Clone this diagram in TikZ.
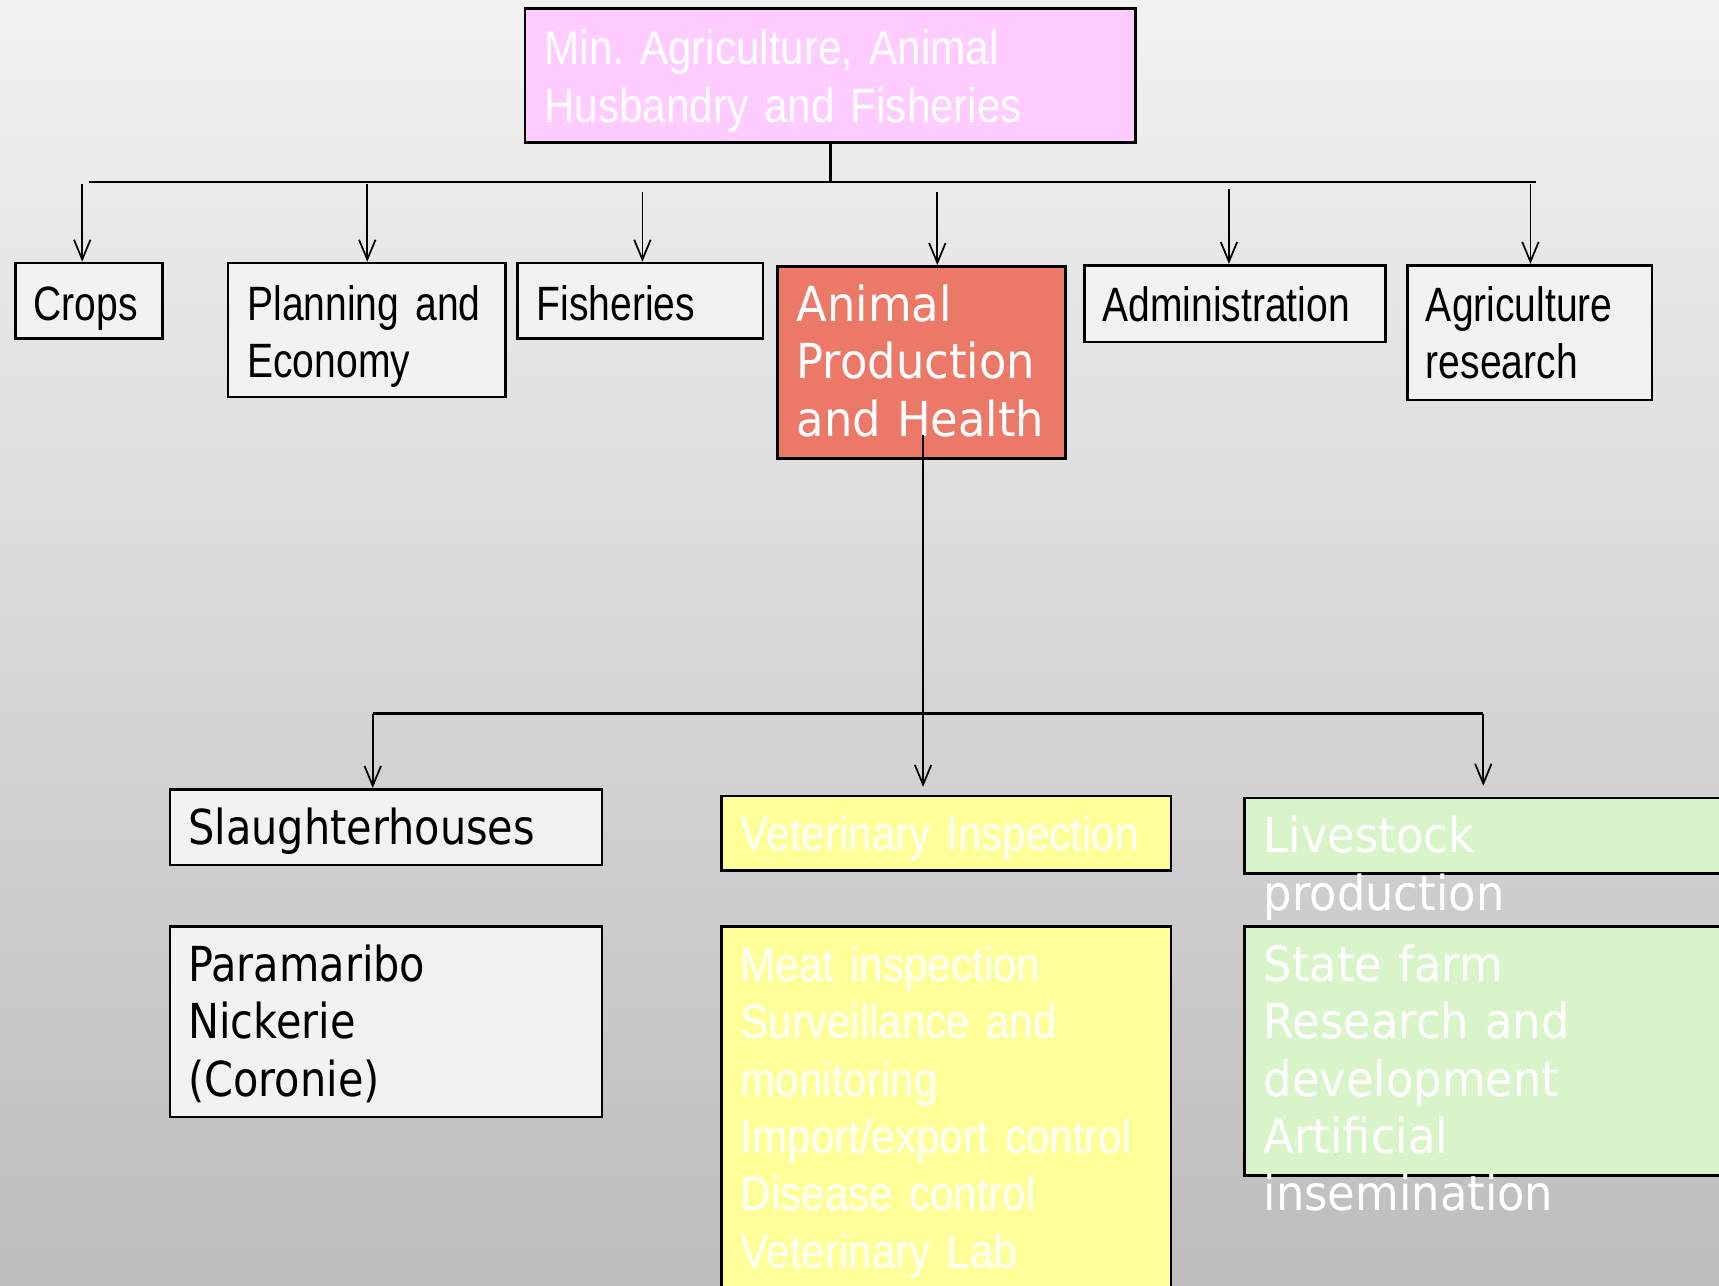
\documentclass[tikz,border=0pt]{standalone}
\usepackage{fontspec}
\usetikzlibrary{arrows.meta,fit}

\newfontfamily\narrowk[FakeStretch=0.81,WordSpace=0.81]{Liberation Sans}
\newfontfamily\narroww[FakeStretch=0.875,WordSpace=0.875]{Liberation Sans}
\newfontfamily\widek[FakeStretch=0.86,WordSpace=0.86]{DejaVu Sans}
\newfontfamily\widew[FakeStretch=0.93,WordSpace=0.93]{DejaVu Sans}

\definecolor{bgtop}{HTML}{F2F2F2}
\definecolor{bgbot}{HTML}{BDBDBD}
\definecolor{pinkbox}{HTML}{FFCCFF}
\definecolor{greybox}{HTML}{F2F2F2}
\definecolor{salmon}{HTML}{EC7868}
\definecolor{yellowbox}{HTML}{FFFF99}
\definecolor{greenbox}{HTML}{DAF4CA}

\tikzset{
  box/.style={draw, line width=0.7pt, inner sep=0pt, fill=greybox},
  txt/.style={anchor=base west, inner sep=0pt, align=left, text width=8cm},
  line/.style={line width=0.65pt},
  arr/.style={line width=0.45pt, -{Straight Barb[length=1.8mm,width=1.5mm]}}
}

\newcommand{\fsz}{\fontsize{12.5}{14.9}\selectfont\frenchspacing}

\begin{document}
\begin{tikzpicture}[x=0.01cm,y=-0.01cm]
\clip (0,0) rectangle (1568,1173);
\shade[top color=bgtop, bottom color=bgbot] (0,0) rectangle (1568,1173);

% ministry
\node[box, fill=pinkbox, fit={(479,8) (1036,130)}] (top) {};
\node[txt, text=white, font=\narroww\fsz] (topT) at (496,59)
  {Min. Agriculture, Animal\\Husbandry and Fisheries};

% departments
\node[box, fit={(14,240) (148,309)}] (crops) {};
\node[box, fit={(208,240) (461,362)}] (plan) {};
\node[box, fit={(472,240) (696,309)}] (fish) {};
\node[box, fill=salmon, fit={(709,243) (972,418)}] (anim) {};
\node[box, fit={(989,242) (1264,312)}] (admin) {};
\node[box, fit={(1284,242) (1507,365)}] (agri) {};

\node[txt, font=\narrowk\fsz] (cropsT) at (30,292) {Crops};
\node[txt, font=\narrowk\fsz] (planT) at (225,292) {Planning and\\Economy};
\node[txt, font=\narrowk\fsz] (fishT) at (489,292) {Fisheries};
\node[txt, text=white, font=\widew\fsz] (animT) at (726,293)
  {Animal\\Production\\and Health};
\node[txt, font=\narrowk\fsz] (adminT) at (1005,293) {Administration};
\node[txt, font=\narrowk\fsz] (agriT) at (1300,293) {Agriculture\\research};

% upper bus
\coordinate (busL) at (81,166);
\coordinate (busR) at (1401,166);
\draw[line] (top.south) -- (top.south |- busL);
\draw[line] (busL) -- (busR);
\foreach \x/\y/\n in {75/168/crops, 335/168/plan, 586/175/fish,
                      855/175/anim, 1121/172/admin, 1396/168/agri}{
  \coordinate (s\n) at (\x,\y);
  \draw[arr] (s\n) -- (s\n |- \n.north);
}

% units under animal production
\node[box, fit={(155,720) (549,789)}] (slau) {};
\node[box, fit={(155,845) (549,1019)}] (towns) {};
\node[box, fill=yellowbox, fit={(658,726) (1068,794)}] (vet) {};
\node[box, fill=yellowbox, fit={(658,845) (1068,1200)}] (vetlist) {};
\node[box, fill=greenbox, fit={(1135,728) (1600,797)}] (live) {};
\node[box, fill=greenbox, fit={(1135,845) (1600,1072)}] (farm) {};

\node[txt, font=\widek\fsz] (slauT) at (171,770) {Slaughterhouses};
\node[txt, font=\widek\fsz] (townsT) at (171,895)
  {Paramaribo\\Nickerie\\(Coronie)};
\node[txt, text=white, font=\narroww\fsz] (vetT) at (675,776)
  {Veterinary Inspection};
\node[txt, text=white, font=\narroww\fsz] (vetlistT) at (675,895)
  {Meat inspection\\Surveillance and\\monitoring\\Import/export control\\Disease control\\Veterinary Lab};
\node[txt, text=white, font=\widew\fsz] (liveT) at (1152,778)
  {Livestock\\production};
\node[txt, text=white, font=\widew\fsz] (farmT) at (1152,895)
  {State farm\\Research and\\development\\Artificial\\insemination};

% lower bus
\coordinate (drop) at (842,397);
\coordinate (busBL) at (340,651);
\coordinate (busBR) at (1353,651);
\draw[line] (drop) -- (drop |- busBL);
\draw[line] (busBL) -- (busBR);
\draw[arr] (busBL) -- (busBL |- slau.north);
\draw[arr, shorten >=0.07cm] (drop |- busBL) -- (drop |- vet.north);
\draw[arr, shorten >=0.1cm] (busBR) -- (busBR |- live.north);
\end{tikzpicture}
\end{document}
